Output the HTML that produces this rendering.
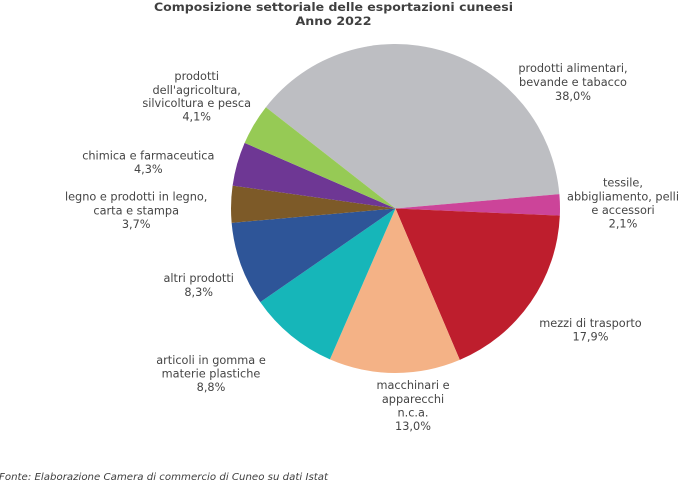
<!DOCTYPE html>
<html>
<head>
<meta charset="utf-8">
<style>
  html, body { margin:0; padding:0; background:#fff; }
  svg { display:block; }
  .lbl { font-family: "DejaVu Sans", "Liberation Sans", sans-serif; font-size:11.3px; fill:#454545; text-anchor:middle; }
  .ttl { font-family: "DejaVu Sans", "Liberation Sans", sans-serif; font-size:11.5px; font-weight:bold; fill:#404040; text-anchor:middle; }
  .src { font-family: "DejaVu Sans", "Liberation Sans", sans-serif; font-size:10px; font-style:italic; fill:#404040; }
</style>
</head>
<body>
<svg width="678" height="482" viewBox="0 0 678 482" xmlns="http://www.w3.org/2000/svg">
  <rect width="678" height="482" fill="#fff"/>
  <text class="ttl" x="333.5" y="11" textLength="359" lengthAdjust="spacingAndGlyphs">Composizione settoriale delle esportazioni cuneesi</text>
  <text class="ttl" x="333.5" y="25" textLength="76" lengthAdjust="spacingAndGlyphs">Anno 2022</text>

  <!-- pie: center (395.5,208.5) r=164.5 -->
  <g stroke="none">
    <path d="M395.5,208.5 L265.87,107.22 A164.5,164.5 0 0 1 559.37,194.16 Z" fill="#BDBEC2"/>
    <path d="M395.5,208.5 L559.37,194.16 A164.5,164.5 0 0 1 559.84,215.68 Z" fill="#CC4499"/>
    <path d="M395.5,208.5 L559.84,215.68 A164.5,164.5 0 0 1 459.78,359.92 Z" fill="#BE1E2D"/>
    <path d="M395.5,208.5 L459.78,359.92 A164.5,164.5 0 0 1 329.91,359.36 Z" fill="#F4B286"/>
    <path d="M395.5,208.5 L329.91,359.36 A164.5,164.5 0 0 1 260.26,302.15 Z" fill="#16B6B9"/>
    <path d="M395.5,208.5 L260.26,302.15 A164.5,164.5 0 0 1 231.63,222.84 Z" fill="#2E5598"/>
    <path d="M395.5,208.5 L231.63,222.84 A164.5,164.5 0 0 1 232.60,185.61 Z" fill="#7D5A28"/>
    <path d="M395.5,208.5 L232.60,185.61 A164.5,164.5 0 0 1 244.64,142.91 Z" fill="#6E3794"/>
    <path d="M395.5,208.5 L244.64,142.91 A164.5,164.5 0 0 1 265.87,107.22 Z" fill="#96CA55"/>
  </g>

  <!-- labels -->
  <text class="lbl" x="573" y="72">prodotti alimentari,</text>
  <text class="lbl" x="573" y="86">bevande e tabacco</text>
  <text class="lbl" x="573" y="100">38,0%</text>

  <text class="lbl" x="623" y="186.5">tessile,</text>
  <text class="lbl" x="623" y="200.5">abbigliamento, pelli</text>
  <text class="lbl" x="623" y="214">e accessori</text>
  <text class="lbl" x="623" y="227.5">2,1%</text>

  <text class="lbl" x="590.5" y="327">mezzi di trasporto</text>
  <text class="lbl" x="590.5" y="340.5">17,9%</text>

  <text class="lbl" x="413" y="389">macchinari e</text>
  <text class="lbl" x="413" y="403">apparecchi</text>
  <text class="lbl" x="413" y="416.5">n.c.a.</text>
  <text class="lbl" x="413" y="430">13,0%</text>

  <text class="lbl" x="211" y="364">articoli in gomma e</text>
  <text class="lbl" x="211" y="377.5">materie plastiche</text>
  <text class="lbl" x="211" y="391">8,8%</text>

  <text class="lbl" x="198.7" y="282">altri prodotti</text>
  <text class="lbl" x="198.7" y="296">8,3%</text>

  <text class="lbl" x="136.2" y="200.5">legno e prodotti in legno,</text>
  <text class="lbl" x="136.2" y="214.5">carta e stampa</text>
  <text class="lbl" x="136.2" y="228">3,7%</text>

  <text class="lbl" x="148.3" y="159.5">chimica e farmaceutica</text>
  <text class="lbl" x="148.3" y="173">4,3%</text>

  <text class="lbl" x="196.7" y="80">prodotti</text>
  <text class="lbl" x="196.7" y="94">dell'agricoltura,</text>
  <text class="lbl" x="196.7" y="107">silvicoltura e pesca</text>
  <text class="lbl" x="196.7" y="120.5">4,1%</text>

  <text class="src" x="-1" y="480" textLength="329" lengthAdjust="spacingAndGlyphs">Fonte: Elaborazione Camera di commercio di Cuneo su dati Istat</text>
</svg>
</body>
</html>
